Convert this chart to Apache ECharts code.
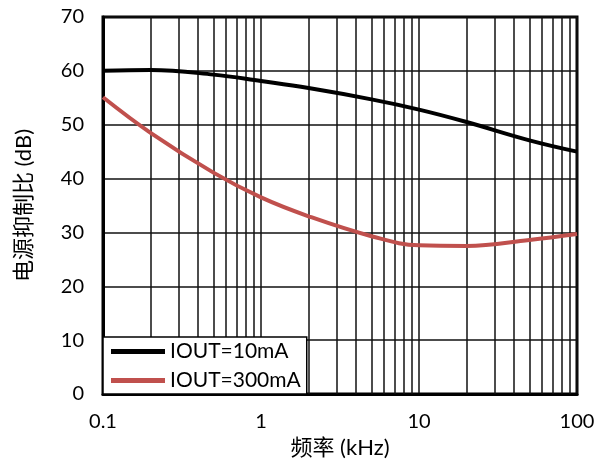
<!DOCTYPE html>
<html>
<head>
<meta charset="utf-8">
<script src="https://cdn.jsdelivr.net/npm/echarts@6/dist/echarts.min.js"></script>
<style>html,body{margin:0;padding:0;background:#fff;}#c{width:605px;height:464px;}</style>
</head>
<body>
<div id="c"></div>
<script>
const seriesNames = ['IOUT=10mA', 'IOUT=300mA'];
const freqKHz = [0.1, 0.2, 0.5, 1, 2, 5, 10, 20, 50, 100];
const psrr10mA = [60.0, 60.15, 59.3, 58.1, 56.8, 54.7, 52.8, 50.5, 47.1, 45.0];
const psrr300mA = [55.1, 48.5, 41.1, 36.5, 33.0, 29.3, 27.6, 27.5, 28.6, 29.7];
const minorGridX = [0.2,0.3,0.4,0.5,0.6,0.7,0.8,0.9,2,3,4,5,6,7,8,9,20,30,40,50,60,70,80,90];
const xTickLabels = ['0.1', '1', '10', '100'];

const FONT = 'Lato, "Noto Sans CJK SC", sans-serif';
const chart = echarts.init(document.getElementById('c'));
const zip = (a, b) => a.map((v, i) => [v, b[i]]);

chart.setOption({
  animation: false,
  grid: { left: 103, top: 17, right: 28, bottom: 68, show: true, borderColor: '#000', borderWidth: 3, backgroundColor: 'transparent' },
  legend: {
    left: 103, top: 337, orient: 'vertical', z: 20,
    backgroundColor: '#fff', borderColor: '#000', borderWidth: 1.5, borderRadius: 0,
    padding: [4, 6, 3, 8], itemGap: 8,
    itemWidth: 54, itemHeight: 5, icon: 'rect',
    textStyle: { fontFamily: FONT, fontSize: 21, color: '#000' },
    data: seriesNames
  },
  xAxis: {
    type: 'log', logBase: 10, min: 0.1, max: 100,
    name: '频率 (kHz)', nameLocation: 'middle', nameGap: 43,
    nameTextStyle: { fontFamily: FONT, fontSize: 22, color: '#000' },
    axisLine: { show: true, lineStyle: { color: '#000', width: 3 } },
    axisTick: { show: false },
    axisLabel: { fontFamily: FONT, fontSize: 20, color: '#000', margin: 18,
      formatter: v => xTickLabels[Math.round(Math.log10(v)) + 1] || '' },
    splitLine: { show: true, lineStyle: { color: '#111', width: 1.5 } }
  },
  yAxis: {
    type: 'value', min: 0, max: 70, interval: 10,
    name: '电源抑制比 (dB)', nameLocation: 'middle', nameGap: 68,
    nameTextStyle: { fontFamily: FONT, fontSize: 22, color: '#000' },
    axisLine: { show: true, lineStyle: { color: '#000', width: 3 } },
    axisTick: { show: false },
    axisLabel: { fontFamily: FONT, fontSize: 20, color: '#000', margin: 19 },
    splitLine: { show: true, lineStyle: { color: '#111', width: 1.5 } }
  },
  series: [
    {
      name: 'minor', type: 'line', data: [], silent: true, z: 1,
      markLine: {
        silent: true, symbol: ['none', 'none'], label: { show: false }, z: 1,
        lineStyle: { color: '#111', width: 1.5, type: 'solid' },
        data: minorGridX.map(v => ({ xAxis: v }))
      }
    },
    {
      name: seriesNames[0], type: 'line', smooth: 0.4, showSymbol: false,
      data: zip(freqKHz, psrr10mA), z: 5,
      lineStyle: { color: '#000', width: 4 }, itemStyle: { color: '#000' }
    },
    {
      name: seriesNames[1], type: 'line', smooth: 0.4, showSymbol: false,
      data: zip(freqKHz, psrr300mA), z: 5,
      lineStyle: { color: '#c0504d', width: 4 }, itemStyle: { color: '#c0504d' }
    }
  ]
});
</script>
</body>
</html>
